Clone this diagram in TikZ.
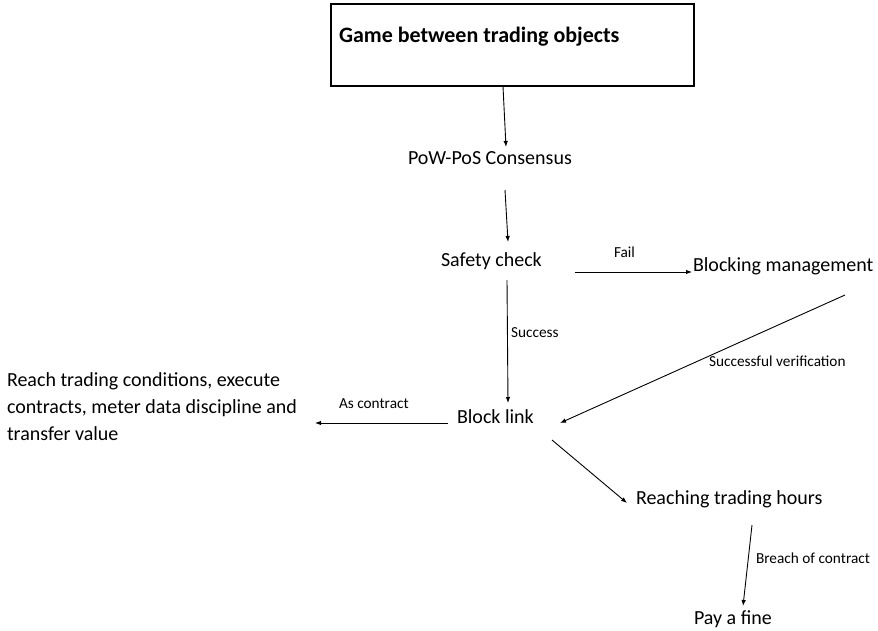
\documentclass[tikz,border=0pt]{standalone}
\usepackage{fontspec}
\setmainfont{Carlito}
\usetikzlibrary{arrows.meta,calc}

\tikzset{
  maintext/.style={inner sep=0pt, outer sep=0pt, font=\fontsize{20}{27}\selectfont},
  smalltext/.style={inner sep=0pt, outer sep=0pt, font=\fontsize{15.3}{18}\selectfont},
  flow/.style={line width=0.9pt, -{Latex[length=6pt,width=4.5pt]}},
  titlebox/.style={draw, line width=1.1pt, inner sep=0pt, minimum width=363pt, minimum height=82pt}
}

\begin{document}
\begin{tikzpicture}[x=1pt, y=-1pt]
  \useasboundingbox (0,0) rectangle (878,631);

  % Header box with its title
  \node[titlebox] (box) at (512.5,45) {};
  \node[inner sep=0pt, outer sep=0pt, anchor=base west, font=\fontsize{22}{27}\selectfont\bfseries] (title) at (339,43) {Game between trading objects};

  % Stages
  \node[maintext, anchor=base west] (pow) at (408,165) {PoW-PoS Consensus};
  \node[maintext, anchor=base west] (safety) at (441,266) {Safety check};
  \node[maintext, anchor=base west] (blocking) at (693,271) {Blocking management};
  \node[maintext, anchor=base west] (blocklink) at (457,423) {Block link};
  \node[maintext, anchor=base west, text width=300pt, align=flush left] (reach) at (7,386)
    {Reach trading conditions, execute\\contracts, meter data discipline and\\transfer value};
  \node[maintext, anchor=base west] (reaching) at (636,504) {Reaching trading hours};
  \node[maintext, anchor=base west] (payfine) at (694,624) {Pay a fine};

  % Edge labels
  \node[smalltext, anchor=base west] (lfail) at (614,257) {Fail};
  \node[smalltext, anchor=base west] (lsuccess) at (511,337) {Success};
  \node[smalltext, anchor=base west] (lverify) at (709,366) {Successful verification};
  \node[smalltext, anchor=base west] (lcontract) at (339,408) {As contract};
  \node[smalltext, anchor=base west] (lbreach) at (756,563) {Breach of contract};

  % Connectors
  \draw[flow] ($(box.south)+(-9.5,0)$) -- ($(pow.base west)+(98,-18)$);
  \draw[flow] ($(pow.base west)+(97,25)$) -- ($(safety.base west)+(67,-24)$);
  \draw[flow] ($(safety.base west)+(134,6)$) -- ($(blocking.base west)+(-1,1)$);
  \draw[flow] ($(safety.base west)+(66,14)$) -- ($(blocklink.base west)+(51,-20)$);
  \draw[flow] ($(blocklink.base west)+(-9,0)$) -- ($(reach.base west)+(308,37)$);
  \draw[flow] ($(blocking.base west)+(152,24)$) -- ($(blocklink.base west)+(103,0)$);
  \draw[flow] ($(blocklink.base west)+(95,17)$) -- ($(reaching.base west)+(-9,-1)$);
  \draw[flow] ($(reaching.base west)+(116,21)$) -- ($(payfine.base west)+(49,-18)$);
\end{tikzpicture}
\end{document}
